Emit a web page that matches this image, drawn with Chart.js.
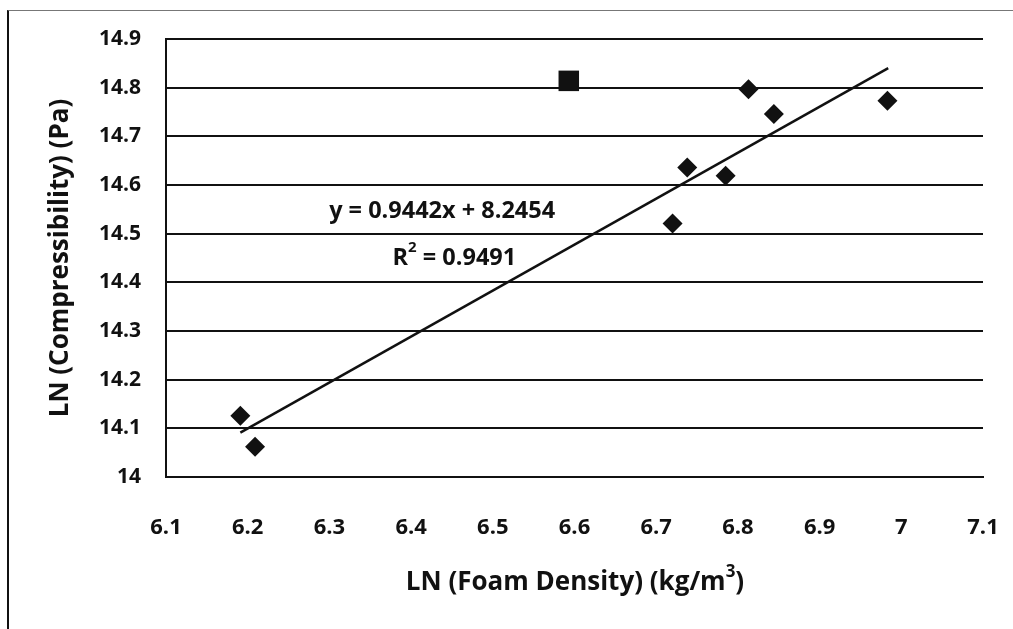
<!DOCTYPE html>
<html>
<head>
<meta charset="utf-8">
<script src="https://cdn.jsdelivr.net/npm/chart.js@4.4.1/dist/chart.umd.min.js"></script>
<style>
  html, body { margin: 0; padding: 0; background: #fff; overflow: hidden; }
  #frame { position: absolute; left: 7px; top: 10px; width: 1100px; height: 700px;
           border-left: 2px solid #111; border-top: 1px solid #777; }
  #c { position: absolute; left: 0; top: 0; }
</style>
</head>
<body>
<div id="frame"></div>
<canvas id="c" width="1013" height="629"></canvas>
<script>
'use strict';

// values
const densityLn  = [6.191, 6.209, 6.720, 6.738, 6.785, 6.813, 6.844, 6.983];
const compressLn = [14.126, 14.062, 14.521, 14.636, 14.619, 14.797, 14.746, 14.773];
const outlierX = [6.593];
const outlierY = [14.814];
// trendline end points as drawn
const trendX = [6.191, 6.984];
const trendY = [14.091, 14.840];

const eqText = 'y = 0.9442x + 8.2454';
const r2Value = ' = 0.9491';
const xTitle = 'LN (Foam Density) (kg/m';
const yTitle = 'LN (Compressibility) (Pa)';

const FONT = '"Open Sans", "DejaVu Sans", sans-serif';
const INK = '#111';

const pts = (xs, ys) => xs.map((x, i) => ({ x, y: ys[i] }));

// axis titles + regression label, drawn by hand for the superscripts
const labels = {
  id: 'labels',
  afterDraw(chart) {
    const { ctx, scales: { x, y } } = chart;
    ctx.save();
    ctx.fillStyle = INK;
    ctx.textBaseline = 'middle';

    // regression equation
    ctx.font = `bold 23.5px ${FONT}`;
    ctx.textAlign = 'center';
    ctx.fillText(eqText, x.getPixelForValue(6.438), y.getPixelForValue(14.545));

    // R² line
    ctx.font = `bold 23.5px ${FONT}`;
    const wR = ctx.measureText('R').width;
    const wV = ctx.measureText(r2Value).width;
    ctx.font = `bold 15px ${FONT}`;
    const w2 = ctx.measureText('2').width;
    const cx = x.getPixelForValue(6.453), cy = y.getPixelForValue(14.45);
    const lx = cx - (wR + w2 + wV) / 2;
    ctx.textAlign = 'left';
    ctx.font = `bold 23.5px ${FONT}`;
    ctx.fillText('R', lx, cy);
    ctx.font = `bold 15px ${FONT}`;
    ctx.fillText('2', lx + wR, cy - 10);
    ctx.font = `bold 23.5px ${FONT}`;
    ctx.fillText(r2Value, lx + wR + w2, cy);

    // x title with m³
    ctx.font = `bold 26px ${FONT}`;
    const wx = ctx.measureText(xTitle).width;
    const wc = ctx.measureText(')').width;
    ctx.font = `bold 17px ${FONT}`;
    const w3 = ctx.measureText('3').width;
    const tx = 575 - (wx + w3 + wc) / 2;
    const ty = 583;
    ctx.font = `bold 26px ${FONT}`;
    ctx.fillText(xTitle, tx, ty);
    ctx.font = `bold 17px ${FONT}`;
    ctx.fillText('3', tx + wx, ty - 11);
    ctx.font = `bold 26px ${FONT}`;
    ctx.fillText(')', tx + wx + w3, ty);

    // y title, rotated
    ctx.translate(61, 258);
    ctx.rotate(-Math.PI / 2);
    ctx.textAlign = 'center';
    ctx.fillText(yTitle, 0, 0);
    ctx.restore();
  }
};

new Chart(document.getElementById('c'), {
  type: 'scatter',
  data: {
    datasets: [
      {
        label: 'data', data: pts(densityLn, compressLn), order: 1,
        pointStyle: 'rectRot', pointRadius: 10, pointHoverRadius: 10,
        backgroundColor: INK, borderColor: INK, borderWidth: 0,
      },
      {
        label: 'outlier', data: pts(outlierX, outlierY), order: 2,
        pointStyle: 'rect', pointRadius: 14.5, pointHoverRadius: 14.5,
        backgroundColor: INK, borderColor: INK, borderWidth: 0,
      },
      {
        label: 'trend', type: 'line', data: pts(trendX, trendY), order: 3,
        showLine: true, pointRadius: 0, borderColor: INK, borderWidth: 2.5, fill: false,
      },
    ],
  },
  options: {
    responsive: false,
    animation: false,
    events: [],
    layout: { padding: { top: 39, right: 30, left: 0, bottom: 0 } },
    plugins: { legend: { display: false }, tooltip: { enabled: false } },
    scales: {
      x: {
        type: 'linear', min: 6.1, max: 7.1,
        afterFit: s => { s.height = 152; s.paddingLeft = 0; s.paddingRight = 0; },
        grid: { display: false },
        border: { display: true, color: INK, width: 2 },
        ticks: {
          stepSize: 0.1, padding: 30, color: INK, maxRotation: 0,
          font: { family: FONT, size: 22, weight: 'bold' },
          callback: v => String(+v.toFixed(1)),
        },
      },
      y: {
        type: 'linear', min: 14, max: 14.9,
        afterFit: s => { s.width = 166; s.paddingTop = 0; s.paddingBottom = 0; },
        grid: { color: INK, lineWidth: 2, drawTicks: false },
        border: { display: true, color: INK, width: 2 },
        ticks: {
          stepSize: 0.1, padding: 25, color: INK,
          font: { family: FONT, size: 21, weight: 'bold' },
          callback: v => String(+v.toFixed(1)),
        },
      },
    },
  },
  plugins: [labels],
});
</script>
</body>
</html>
